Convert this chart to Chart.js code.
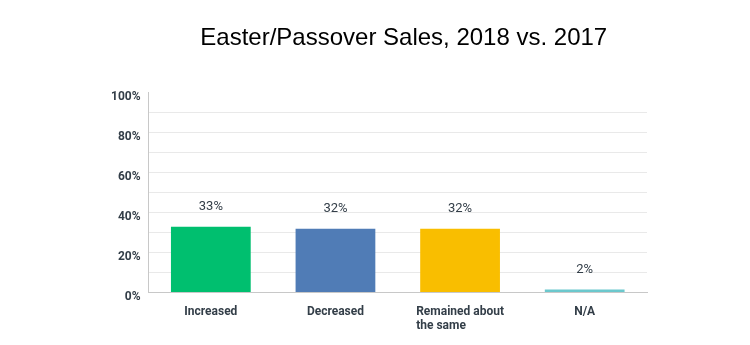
<!DOCTYPE html>
<html>
<head>
<meta charset="utf-8">
<script src="https://cdn.jsdelivr.net/npm/chart.js@4/dist/chart.umd.min.js"></script>
<style>
html,body{margin:0;padding:0;background:#fff;}
#wrap{width:750px;height:345px;position:relative;}
</style>
</head>
<body>
<div id="wrap"><canvas id="c" width="750" height="345"></canvas></div>
<script>
const chartTitle = 'Easter/Passover Sales, 2018 vs. 2017';
const categories = [['Increased'], ['Decreased'], ['Remained about', 'the same'], ['N/A']];
const values = [33, 32, 32, 1.5];
const barColors = ['#00bf6f', '#507cb6', '#f9be00', '#6bc8cd'];
const yTicks = [0, 20, 40, 60, 80, 100];

const TEXT = '#333e48';
const FONT = 'Roboto, "Liberation Sans", sans-serif';
const tickFont = {family: FONT, size: 12, weight: 'bold'};

const titlePlugin = {
  id: 'titleText',
  afterDraw(chart) {
    const ctx = chart.ctx;
    const a = chart.chartArea;
    ctx.save();
    ctx.font = '24px "Liberation Sans", Arial, sans-serif';
    ctx.fillStyle = '#000';
    ctx.textAlign = 'center';
    ctx.textBaseline = 'middle';
    ctx.fillText(chartTitle, (a.left + a.right) / 2 + 6, 38);
    ctx.restore();
  }
};

const xLabelPlugin = {
  id: 'xLabels',
  afterDraw(chart) {
    const ctx = chart.ctx;
    const xs = chart.scales.x;
    ctx.save();
    ctx.font = 'bold 12px ' + FONT;
    ctx.fillStyle = TEXT;
    ctx.textBaseline = 'middle';
    ctx.textAlign = 'left';
    categories.forEach((lines, i) => {
      const cx = xs.getPixelForValue(i);
      const w = Math.max(...lines.map(l => ctx.measureText(l).width));
      const left = cx - w / 2;
      lines.forEach((l, j) => {
        ctx.fillText(l, left, chart.chartArea.bottom + 19 + j * 14);
      });
    });
    ctx.restore();
  }
};

const valueLabelPlugin = {
  id: 'valueLabels',
  afterDatasetsDraw(chart) {
    const ctx = chart.ctx;
    const meta = chart.getDatasetMeta(0);
    ctx.save();
    ctx.font = '13px ' + FONT;
    ctx.fillStyle = TEXT;
    ctx.textAlign = 'center';
    ctx.textBaseline = 'middle';
    meta.data.forEach((bar, i) => {
      ctx.fillText(Math.round(values[i]) + '%', bar.x, bar.y - 20);
    });
    ctx.restore();
  }
};

new Chart(document.getElementById('c'), {
  type: 'bar',
  data: {
    labels: categories.map(c => c.join(' ')),
    datasets: [{
      data: values,
      backgroundColor: barColors,
      borderWidth: 0,
      barPercentage: 0.64,
      categoryPercentage: 1.0
    }]
  },
  options: {
    responsive: false,
    animation: false,
    devicePixelRatio: 1,
    layout: {padding: {left: 103, right: 103, top: 0, bottom: 18}},
    plugins: {
      legend: {display: false},
      tooltip: {enabled: false},
      title: {
        display: true,
        text: chartTitle,
        fullSize: false,
        color: 'rgba(0,0,0,0)',
        font: {family: '"Liberation Sans", Arial, sans-serif', size: 24, weight: 'normal'},
        padding: {top: 24, bottom: 40}
      }
    },
    scales: {
      x: {
        grid: {display: false, drawTicks: false},
        border: {display: true, color: '#c8c8c8', width: 1},
        ticks: {display: true, color: 'rgba(0,0,0,0)', font: tickFont, padding: 10, callback: () => ''}
      },
      y: {
        min: 0,
        max: 100,
        grid: {
          color: c => (c.tick && c.tick.value === 100) ? 'rgba(0,0,0,0)' : '#e9e9e9',
          drawTicks: false
        },
        border: {display: true, color: '#c8c8c8', width: 1},
        ticks: {
          stepSize: 10,
          color: TEXT,
          font: tickFont,
          padding: 8,
          labelOffset: 4,
          callback: v => yTicks.includes(v) ? v + '%' : ''
        }
      }
    }
  },
  plugins: [titlePlugin, xLabelPlugin, valueLabelPlugin]
});
</script>
</body>
</html>
